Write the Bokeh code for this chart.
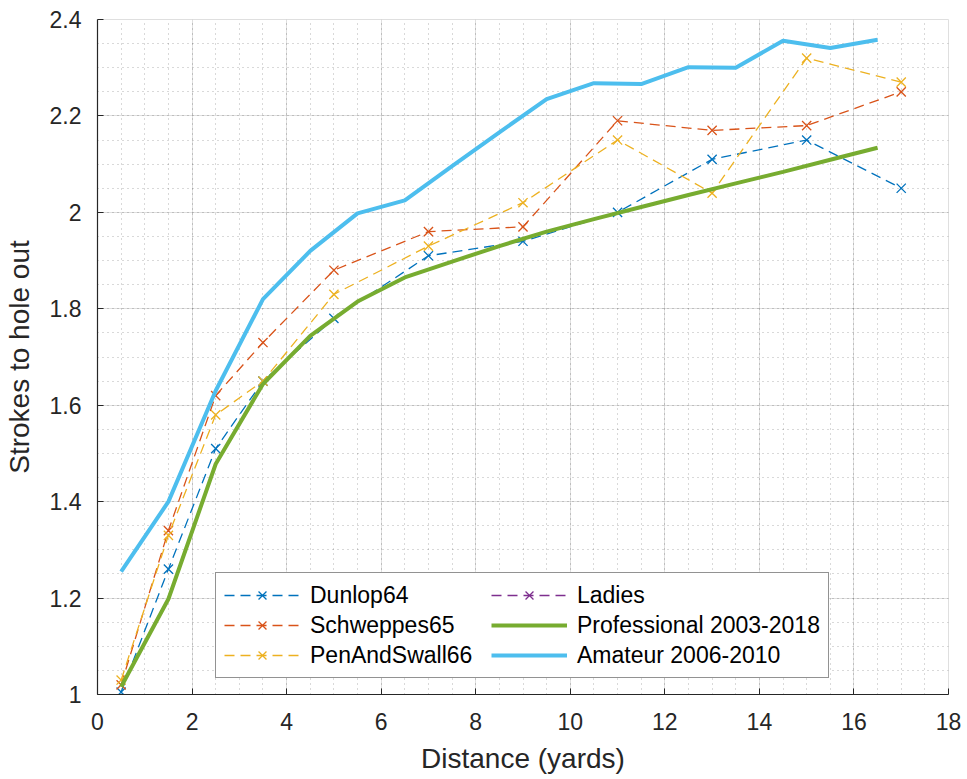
from bokeh.plotting import figure
from bokeh.models import (FixedTicker, Legend, LegendItem,
                          CustomJSTickFormatter, Range1d)
from bokeh.embed import file_html
from bokeh.resources import INLINE

FONT = "Liberation Sans"
NAN = float("nan")

# ---- data ----
dunlop_x = [0.5, 1.5, 2.5, 3.5, 5, 7, 9, 11, 13, 15, 17]
dunlop_y = [1.005, 1.26, 1.51, 1.65, 1.78, 1.91, 1.94, 2.00, 2.11, 2.15, 2.05]

schweppes_x = [0.5, 1.5, 2.5, 3.5, 5, 7, 9, 11, 13, 15, 17]
schweppes_y = [1.02, 1.34, 1.62, 1.73, 1.88, 1.96, 1.97, 2.19, 2.17, 2.18, 2.25]

pen_x = [0.5, 1.5, 2.5, 3.5, 5, 7, 9, 11, 13, 15, 17]
pen_y = [1.03, 1.33, 1.58, 1.65, 1.83, 1.93, 2.02, 2.15, 2.04, 2.32, 2.27]

# Ladies: in the legend only, no visible data
ladies_x = [NAN]
ladies_y = [NAN]

pro_x = [0.5, 1.5, 2.5, 3.5, 4.5, 5.5, 6.5, 7.5, 8.5, 9.5, 10.5, 11.5, 12.5,
         13.5, 14.5, 15.5, 16.5]
pro_y = [1.016, 1.198, 1.478, 1.644, 1.744, 1.815, 1.865, 1.898, 1.930, 1.960,
         1.986, 2.011, 2.036, 2.060, 2.084, 2.109, 2.134]

am_x = [0.5, 1.5, 2.5, 3.5, 4.5, 5.5, 6.5, 7.5, 8.5, 9.5, 10.5, 11.5, 12.5,
        13.5, 14.5, 15.5, 16.5]
am_y = [1.255, 1.40, 1.63, 1.82, 1.92, 1.998, 2.025, 2.096, 2.166, 2.235,
        2.268, 2.266, 2.301, 2.300, 2.356, 2.341, 2.358]

labels = ["Dunlop64", "Schweppes65", "PenAndSwall66", "Ladies",
          "Professional 2003-2018", "Amateur 2006-2010"]
colors = ["#0072BD", "#D95319", "#EDB120", "#7E2F8E", "#77AC30", "#4DBEEE"]

x_ticks = [0, 2, 4, 6, 8, 10, 12, 14, 16, 18]
y_ticks = [1.0, 1.2, 1.4, 1.6, 1.8, 2.0, 2.2, 2.4]
x_minor = [round(i * 0.5, 2) for i in range(0, 37)]
y_minor = [round(1 + i * 0.05, 3) for i in range(0, 29)]

p = figure(width=967, height=779, output_backend="svg", toolbar_location=None,
           x_range=Range1d(0, 18), y_range=Range1d(1, 2.4),
           min_border_left=95, min_border_right=19, min_border_top=19,
           min_border_bottom=85)
p.background_fill_color = "white"
p.border_fill_color = "white"
p.outline_line_color = "#DFDFDF"

xt = FixedTicker(ticks=x_ticks, minor_ticks=x_minor)
yt = FixedTicker(ticks=y_ticks, minor_ticks=y_minor)
p.xaxis.ticker = xt
p.yaxis.ticker = yt
p.xgrid.ticker = xt
p.ygrid.ticker = yt
p.yaxis.formatter = CustomJSTickFormatter(
    code="return parseFloat(tick.toFixed(2)).toString();")

for g in (p.xgrid, p.ygrid):
    g.grid_line_color = "#262626"
    g.grid_line_alpha = 0.15
    g.grid_line_width = 1
    g.minor_grid_line_color = "#262626"
    g.minor_grid_line_alpha = 0.35
    g.minor_grid_line_dash = "1 4"

for ax in (p.xaxis, p.yaxis):
    ax.axis_line_color = "#262626"
    ax.axis_line_width = 1.2
    ax.major_tick_line_color = "#262626"
    ax.major_tick_in = 6
    ax.major_tick_out = 0
    ax.minor_tick_line_color = None
    ax.major_label_text_font = FONT
    ax.major_label_text_font_size = "23px"
    ax.major_label_text_color = "#262626"
    ax.axis_label_text_font = FONT
    ax.axis_label_text_font_size = "28px"
    ax.axis_label_text_font_style = "normal"
    ax.axis_label_text_color = "#262626"

p.xaxis.axis_label = "Distance (yards)"
p.yaxis.axis_label = "Strokes to hole out"
p.xaxis.major_label_standoff = 14
p.xaxis.axis_label_standoff = 10
p.yaxis.major_label_standoff = 12
p.yaxis.axis_label_standoff = 12

items = []
dashed = [(dunlop_x, dunlop_y), (schweppes_x, schweppes_y), (pen_x, pen_y),
          (ladies_x, ladies_y)]
for (xs, ys), lab, col in zip(dashed, labels[:4], colors[:4]):
    lr = p.line(xs, ys, line_color=col, line_width=1.3, line_dash="10 6")
    sr = p.scatter(xs, ys, marker="x", size=13, line_color=col, line_width=1.3)
    items.append(LegendItem(label=lab, renderers=[lr, sr]))

r_pro = p.line(pro_x, pro_y, line_color=colors[4], line_width=4)
items.append(LegendItem(label=labels[4], renderers=[r_pro]))
r_am = p.line(am_x, am_y, line_color=colors[5], line_width=4)
items.append(LegendItem(label=labels[5], renderers=[r_am]))

legend = Legend(items=items, location=(118, 16), nrows=3,
                label_text_font=FONT, label_text_font_size="23px",
                label_text_color="#000000",
                glyph_width=76, glyph_height=28, label_standoff=10,
                label_width=179, spacing=2, padding=8, margin=0,
                border_line_color="#262626", border_line_width=1,
                background_fill_color="white", background_fill_alpha=1)
p.add_layout(legend, "center")

open("out.html", "w").write(file_html(p, INLINE))
